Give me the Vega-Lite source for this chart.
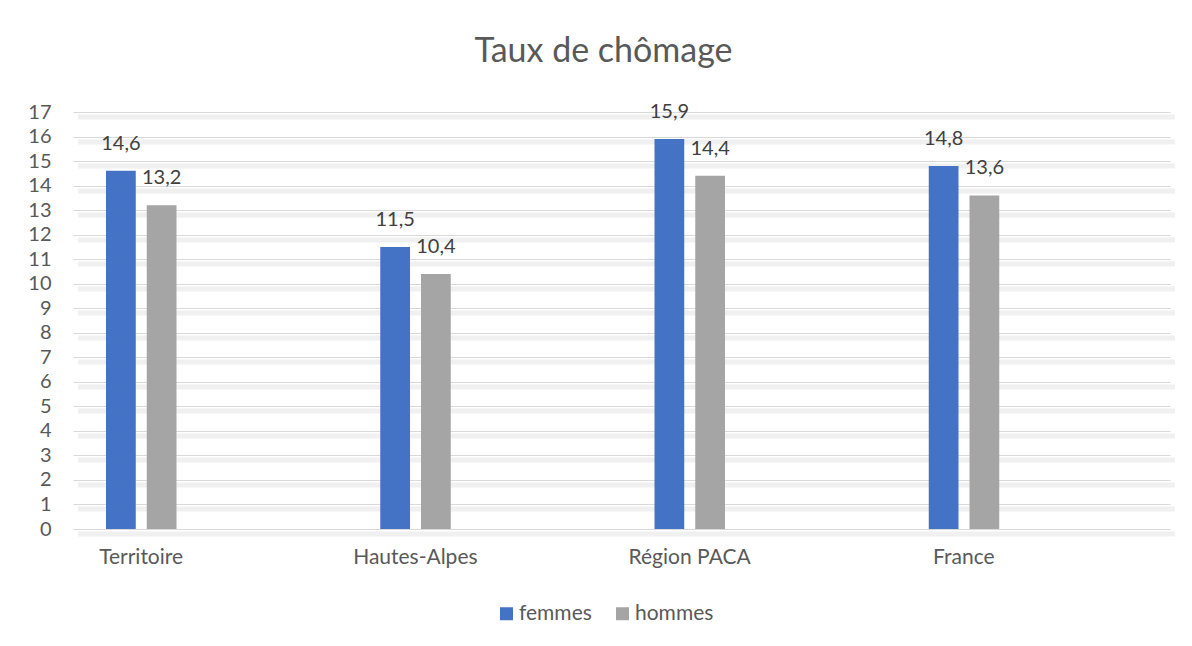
{
  "$schema": "https://vega.github.io/schema/vega-lite/v6.json",
  "autosize": "none",
  "width": 1097,
  "height": 417,
  "padding": {"left": 73, "top": 112, "right": 22, "bottom": 117},
  "background": "white",
  "config": {
    "font": "Lato",
    "view": {"stroke": null}
  },
  "title": {
    "text": "Taux de chômage",
    "font": "Lato",
    "fontSize": 34,
    "fontWeight": "normal",
    "color": "#595959",
    "anchor": "middle",
    "dx": -18,
    "baseline": "alphabetic",
    "offset": 6
  },
  "data": {
    "values": [
      {"zone": "Territoire", "sexe": "femmes", "taux": 14.6, "label": "14,6"},
      {"zone": "Territoire", "sexe": "hommes", "taux": 13.2, "label": "13,2"},
      {"zone": "Hautes-Alpes", "sexe": "femmes", "taux": 11.5, "label": "11,5"},
      {"zone": "Hautes-Alpes", "sexe": "hommes", "taux": 10.4, "label": "10,4"},
      {"zone": "Région PACA", "sexe": "femmes", "taux": 15.9, "label": "15,9"},
      {"zone": "Région PACA", "sexe": "hommes", "taux": 14.4, "label": "14,4"},
      {"zone": "France", "sexe": "femmes", "taux": 14.8, "label": "14,8"},
      {"zone": "France", "sexe": "hommes", "taux": 13.6, "label": "13,6"}
    ]
  },
  "encoding": {
    "x": {
      "field": "zone",
      "type": "nominal",
      "sort": ["Territoire", "Hautes-Alpes", "Région PACA", "France"],
      "scale": {"paddingInner": 0, "paddingOuter": 0},
      "axis": {
        "title": null,
        "labelAngle": 0,
        "domain": false,
        "ticks": false,
        "tickSize": 0,
        "labelOffset": -69,
        "labelPadding": 17,
        "labelFont": "Lato",
        "labelFontSize": 21,
        "labelColor": "#595959"
      }
    },
    "xOffset": {
      "field": "sexe",
      "type": "nominal",
      "scale": {"domain": ["femmes", "hommes", "_a", "_b", "_c"], "paddingInner": 0.27, "paddingOuter": 1.042, "align": 0.405}
    }
  },
  "layer": [
    {
      "mark": {"type": "bar", "opacity": 0},
      "encoding": {
        "y": {
          "field": "taux",
          "type": "quantitative",
          "scale": {"domain": [0, 17], "nice": false},
          "axis": {
            "title": null,
            "orient": "left",
            "values": [0,1,2,3,4,5,6,7,8,9,10,11,12,13,14,15,16,17],
            "labels": false,
            "domain": false,
            "ticks": false,
            "tickSize": 0,
            "grid": true,
            "gridColor": "#f0f0f0",
            "gridWidth": 5,
            "translate": 5
          }
        }
      }
    },
    {
      "mark": {"type": "bar"},
      "encoding": {
        "y": {
          "field": "taux",
          "type": "quantitative",
          "scale": {"domain": [0, 17], "nice": false},
          "axis": {
            "title": null,
            "orient": "left",
            "values": [0,1,2,3,4,5,6,7,8,9,10,11,12,13,14,15,16,17],
            "domain": false,
            "ticks": false,
            "tickSize": 0,
            "labelPadding": 22,
            "labelFont": "Lato",
            "labelFontSize": 20,
            "labelColor": "#595959",
            "grid": true,
            "gridColor": "#d9d9d9",
            "gridWidth": 1
          }
        },
        "color": {
          "field": "sexe",
          "type": "nominal",
          "sort": ["femmes", "hommes"],
          "scale": {"domain": ["femmes", "hommes"], "range": ["#4472C4", "#A5A5A5"]},
          "legend": {
            "title": null,
            "orient": "none",
            "direction": "horizontal",
            "legendX": 423,
            "legendY": 491,
            "symbolType": "square",
            "symbolSize": 169,
            "symbolStrokeWidth": 0,
            "symbolOpacity": 1,
            "labelFont": "Lato",
            "labelFontSize": 21,
            "labelColor": "#595959",
            "labelOffset": 2,
            "columnPadding": 20
          }
        }
      }
    },
    {
      "mark": {"type": "text", "baseline": "middle", "align": "center", "dy": -27, "font": "Lato", "fontSize": 20, "color": "#404040"},
      "encoding": {
        "y": {"field": "taux", "type": "quantitative", "axis": null},
        "text": {"field": "label"}
      }
    }
  ],
  "resolve": {"axis": {"y": "independent"}}
}
